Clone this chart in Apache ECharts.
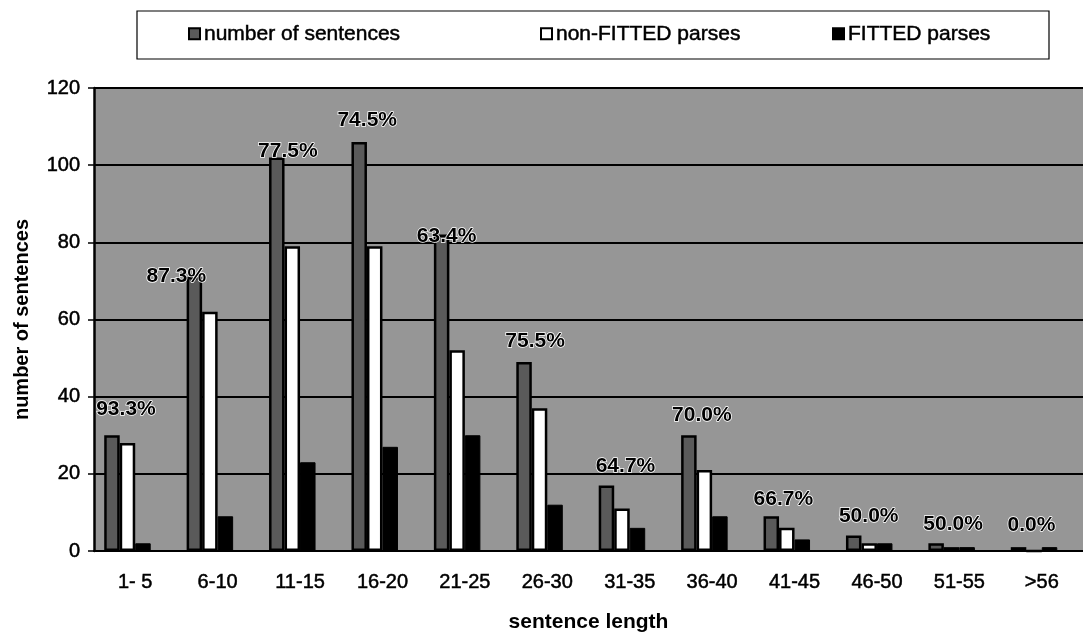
<!DOCTYPE html>
<html>
<head>
<meta charset="utf-8">
<script src="https://cdn.jsdelivr.net/npm/echarts@6/dist/echarts.min.js"></script>
<style>
html,body{margin:0;padding:0;background:#fff;}
#chart{width:1083px;height:638px;}
</style>
</head>
<body>
<div id="chart"></div>
<script>
// ---- data ----
const categories = ['1- 5','6-10','11-15','16-20','21-25','26-30','31-35','36-40','41-45','46-50','51-55','>56'];
const numberOfSentences = [30, 71, 102, 106, 82, 49, 17, 30, 9, 4, 2, 1];
const nonFittedParses   = [28, 62, 79, 79, 52, 37, 11, 21, 6, 2, 1, 0];
const fittedParses      = [2, 9, 23, 27, 30, 12, 6, 9, 3, 2, 1, 1];
const percentLabels = ['93.3%','87.3%','77.5%','74.5%','63.4%','75.5%','64.7%','70.0%','66.7%','50.0%','50.0%','0.0%'];
const yTicks = [0, 20, 40, 60, 80, 100, 120];

// ---- placement of the percentage labels (style, relative to the bar top) ----
const pctOffsets = [[14,-16],[-18,10],[11,4],[8,-11],[5,12],[11,-10],[19,-9],[13,-10],[12,-7],[15,-9],[17,-9],[13,-11]];

const FONT = '"Liberation Sans", Arial, Helvetica, sans-serif';
const chart = echarts.init(document.getElementById('chart'), null, {renderer:'canvas'});

const numberData = numberOfSentences.map((v, i) => ({
  value: v,
  label: {
    show: true,
    position: 'top',
    distance: 0,
    offset: pctOffsets[i],
    formatter: () => percentLabels[i]
  }
}));

const heavy = {textBorderColor: '#000', textBorderWidth: 0.5};

const legendBase = {
  itemWidth: 11, itemHeight: 11, itemGap: 0, padding: 0,
  icon: 'rect',
  textStyle: Object.assign({fontSize: 21, color: '#000', fontFamily: FONT, padding: [0,0,0,-1]}, heavy)
};

const option = {
  animation: false,
  backgroundColor: '#ffffff',
  textStyle: {fontFamily: FONT},
  graphic: [{
    type: 'rect',
    shape: {x: 137, y: 11, width: 912, height: 48},
    style: {fill: '#ffffff', stroke: '#000', lineWidth: 1.2},
    z: 0
  }],
  legend: [
    Object.assign({data: ['number of sentences'], left: 188, top: 23}, legendBase),
    Object.assign({data: ['non-FITTED parses'], left: 540, top: 23}, legendBase),
    Object.assign({data: ['FITTED parses'], left: 832, top: 23}, legendBase)
  ],
  grid: {left: 94, right: 0, top: 88, bottom: 83, show: true, backgroundColor: '#969696', borderWidth: 0},
  xAxis: {
    type: 'category',
    data: categories,
    name: 'sentence length',
    nameLocation: 'middle',
    nameGap: 61,
    nameTextStyle: {fontSize: 21, fontWeight: 'bold', color: '#000', fontFamily: FONT},
    axisLine: {lineStyle: {color: '#000', width: 2}},
    axisTick: {show: false},
    axisLabel: Object.assign({fontSize: 20, color: '#000', margin: 21, fontFamily: FONT, interval: 0}, heavy)
  },
  yAxis: {
    type: 'value',
    min: yTicks[0],
    max: yTicks[yTicks.length - 1],
    interval: yTicks[1] - yTicks[0],
    name: 'number of sentences',
    nameLocation: 'middle',
    nameGap: 62,
    nameTextStyle: {fontSize: 20, fontWeight: 'bold', color: '#000', fontFamily: FONT},
    axisLine: {show: true, lineStyle: {color: '#000', width: 2.5}},
    axisTick: {show: true, length: 6, lineStyle: {color: '#000', width: 1.5}},
    axisLabel: Object.assign({fontSize: 20, color: '#000', margin: 14, fontFamily: FONT}, heavy),
    splitLine: {show: true, lineStyle: {color: '#000', width: 2}}
  },
  series: [
    {
      name: 'number of sentences', type: 'bar', barWidth: 15.5, barGap: '0%',
      data: numberData,
      itemStyle: {color: '#5a5a5a', borderColor: '#000', borderWidth: 2.5},
      label: {fontSize: 21, fontWeight: 'bold', color: '#000', fontFamily: FONT, textBorderColor: '#fff', textBorderWidth: 1.5},
      z: 3
    },
    {
      name: 'non-FITTED parses', type: 'bar', barWidth: 15.5, barGap: '0%',
      data: nonFittedParses,
      itemStyle: {color: '#ffffff', borderColor: '#000', borderWidth: 2.5},
      z: 2
    },
    {
      name: 'FITTED parses', type: 'bar', barWidth: 15.5, barGap: '0%',
      data: fittedParses,
      itemStyle: {color: '#000000', borderColor: '#000', borderWidth: 1},
      z: 2
    },
    {
      name: '_spacer', type: 'bar', barWidth: 15.5, barGap: '0%',
      data: categories.map(() => null),
      silent: true
    }
  ]
};
chart.setOption(option);
</script>
</body>
</html>
